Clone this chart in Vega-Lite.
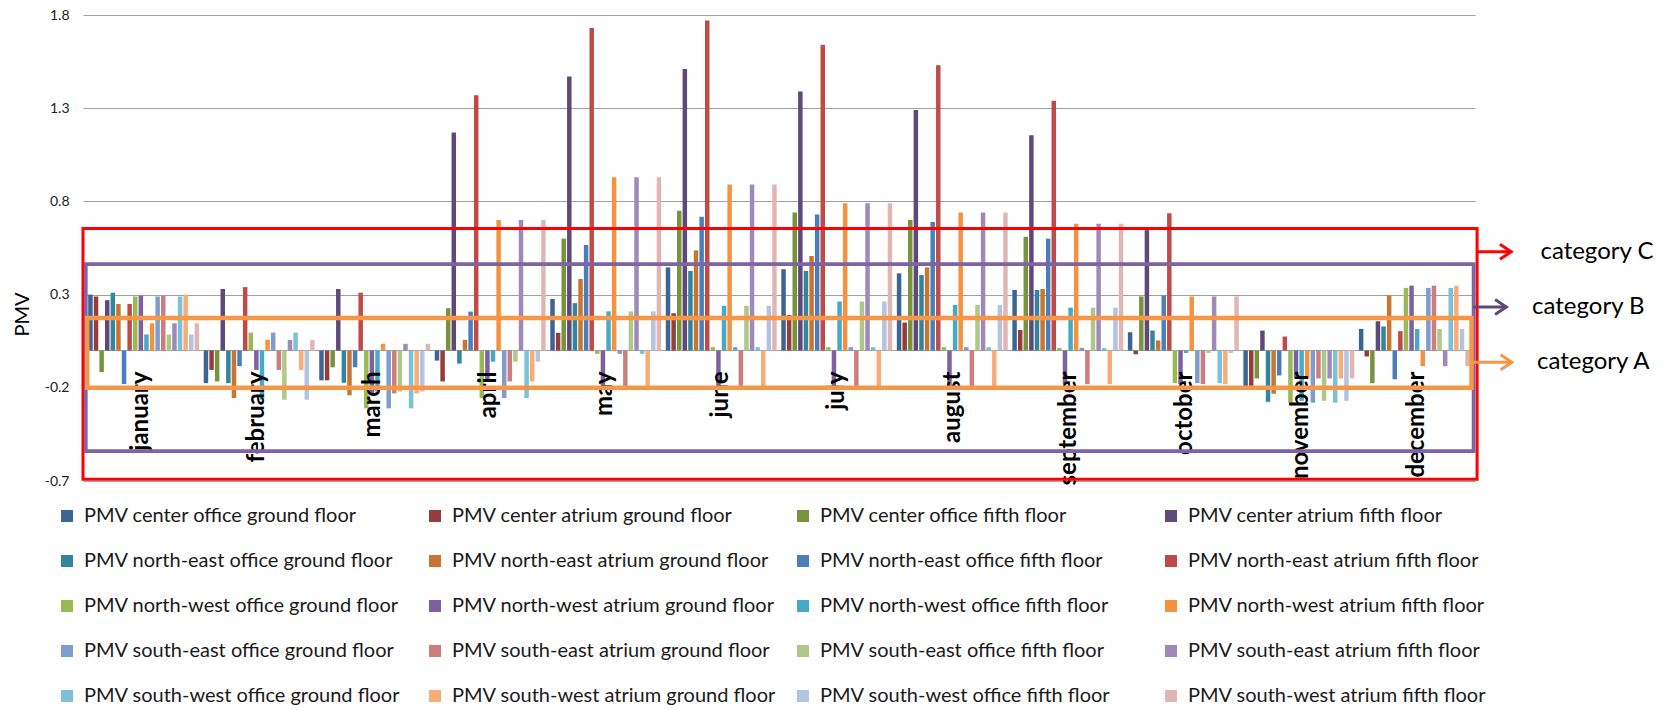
{
  "$schema": "https://vega.github.io/schema/vega-lite/v6.json",
  "width": 1392,
  "height": 466,
  "autosize": {"type": "none"},
  "padding": {"left": 83, "top": 15, "right": 196, "bottom": 229},
  "config": {"font": "Lato", "view": {"stroke": null}},
  "datasets": {
    "series": [
      {"k": 1, "series": "PMV center office ground floor"},
      {"k": 2, "series": "PMV center atrium ground floor"},
      {"k": 3, "series": "PMV center office fifth floor"},
      {"k": 4, "series": "PMV center atrium fifth floor"},
      {"k": 5, "series": "PMV north-east office ground floor"},
      {"k": 6, "series": "PMV north-east atrium ground floor"},
      {"k": 7, "series": "PMV north-east office fifth floor"},
      {"k": 8, "series": "PMV north-east atrium fifth floor"},
      {"k": 9, "series": "PMV north-west office ground floor"},
      {"k": 10, "series": "PMV north-west atrium ground floor"},
      {"k": 11, "series": "PMV north-west office fifth floor"},
      {"k": 12, "series": "PMV north-west atrium fifth floor"},
      {"k": 13, "series": "PMV south-east office ground floor"},
      {"k": 14, "series": "PMV south-east atrium ground floor"},
      {"k": 15, "series": "PMV south-east office fifth floor"},
      {"k": 16, "series": "PMV south-east atrium fifth floor"},
      {"k": 17, "series": "PMV south-west office ground floor"},
      {"k": 18, "series": "PMV south-west atrium ground floor"},
      {"k": 19, "series": "PMV south-west office fifth floor"},
      {"k": 20, "series": "PMV south-west atrium fifth floor"}
    ],
    "pmv": [
      {"month": "january", "k": 1, "pmv": 0.3}, {"month": "january", "k": 2, "pmv": 0.29}, {"month": "january", "k": 3, "pmv": -0.116}, {"month": "january", "k": 4, "pmv": 0.27}, {"month": "january", "k": 5, "pmv": 0.31}, {"month": "january", "k": 6, "pmv": 0.25}, {"month": "january", "k": 7, "pmv": -0.18}, {"month": "january", "k": 8, "pmv": 0.25}, {"month": "january", "k": 9, "pmv": 0.29}, {"month": "january", "k": 10, "pmv": 0.295}, {"month": "january", "k": 11, "pmv": 0.086}, {"month": "january", "k": 12, "pmv": 0.146}, {"month": "january", "k": 13, "pmv": 0.29}, {"month": "january", "k": 14, "pmv": 0.295}, {"month": "january", "k": 15, "pmv": 0.086}, {"month": "january", "k": 16, "pmv": 0.146}, {"month": "january", "k": 17, "pmv": 0.29}, {"month": "january", "k": 18, "pmv": 0.3}, {"month": "january", "k": 19, "pmv": 0.086}, {"month": "january", "k": 20, "pmv": 0.146},
      {"month": "february", "k": 1, "pmv": -0.175}, {"month": "february", "k": 2, "pmv": -0.104}, {"month": "february", "k": 3, "pmv": -0.166}, {"month": "february", "k": 4, "pmv": 0.33}, {"month": "february", "k": 5, "pmv": -0.175}, {"month": "february", "k": 6, "pmv": -0.255}, {"month": "february", "k": 7, "pmv": -0.084}, {"month": "february", "k": 8, "pmv": 0.34}, {"month": "february", "k": 9, "pmv": 0.096}, {"month": "february", "k": 10, "pmv": -0.104}, {"month": "february", "k": 11, "pmv": -0.264}, {"month": "february", "k": 12, "pmv": 0.057}, {"month": "february", "k": 13, "pmv": 0.096}, {"month": "february", "k": 14, "pmv": -0.104}, {"month": "february", "k": 15, "pmv": -0.264}, {"month": "february", "k": 16, "pmv": 0.057}, {"month": "february", "k": 17, "pmv": 0.096}, {"month": "february", "k": 18, "pmv": -0.104}, {"month": "february", "k": 19, "pmv": -0.264}, {"month": "february", "k": 20, "pmv": 0.057},
      {"month": "march", "k": 1, "pmv": -0.16}, {"month": "march", "k": 2, "pmv": -0.16}, {"month": "march", "k": 3, "pmv": -0.09}, {"month": "march", "k": 4, "pmv": 0.33}, {"month": "march", "k": 5, "pmv": -0.173}, {"month": "march", "k": 6, "pmv": -0.24}, {"month": "march", "k": 7, "pmv": -0.09}, {"month": "march", "k": 8, "pmv": 0.31}, {"month": "march", "k": 9, "pmv": -0.31}, {"month": "march", "k": 10, "pmv": -0.23}, {"month": "march", "k": 11, "pmv": -0.22}, {"month": "march", "k": 12, "pmv": 0.036}, {"month": "march", "k": 13, "pmv": -0.31}, {"month": "march", "k": 14, "pmv": -0.23}, {"month": "march", "k": 15, "pmv": -0.22}, {"month": "march", "k": 16, "pmv": 0.036}, {"month": "march", "k": 17, "pmv": -0.31}, {"month": "march", "k": 18, "pmv": -0.23}, {"month": "march", "k": 19, "pmv": -0.22}, {"month": "march", "k": 20, "pmv": 0.036},
      {"month": "april", "k": 1, "pmv": -0.054}, {"month": "april", "k": 2, "pmv": -0.166}, {"month": "april", "k": 3, "pmv": 0.227}, {"month": "april", "k": 4, "pmv": 1.17}, {"month": "april", "k": 5, "pmv": -0.07}, {"month": "april", "k": 6, "pmv": 0.057}, {"month": "april", "k": 7, "pmv": 0.209}, {"month": "april", "k": 8, "pmv": 1.37}, {"month": "april", "k": 9, "pmv": -0.255}, {"month": "april", "k": 10, "pmv": -0.166}, {"month": "april", "k": 11, "pmv": -0.06}, {"month": "april", "k": 12, "pmv": 0.7}, {"month": "april", "k": 13, "pmv": -0.255}, {"month": "april", "k": 14, "pmv": -0.166}, {"month": "april", "k": 15, "pmv": -0.06}, {"month": "april", "k": 16, "pmv": 0.7}, {"month": "april", "k": 17, "pmv": -0.255}, {"month": "april", "k": 18, "pmv": -0.166}, {"month": "april", "k": 19, "pmv": -0.06}, {"month": "april", "k": 20, "pmv": 0.7},
      {"month": "may", "k": 1, "pmv": 0.277}, {"month": "may", "k": 2, "pmv": 0.095}, {"month": "may", "k": 3, "pmv": 0.6}, {"month": "may", "k": 4, "pmv": 1.47}, {"month": "may", "k": 5, "pmv": 0.254}, {"month": "may", "k": 6, "pmv": 0.384}, {"month": "may", "k": 7, "pmv": 0.566}, {"month": "may", "k": 8, "pmv": 1.73}, {"month": "may", "k": 9, "pmv": -0.018}, {"month": "may", "k": 10, "pmv": -0.193}, {"month": "may", "k": 11, "pmv": 0.21}, {"month": "may", "k": 12, "pmv": 0.93}, {"month": "may", "k": 13, "pmv": -0.018}, {"month": "may", "k": 14, "pmv": -0.193}, {"month": "may", "k": 15, "pmv": 0.21}, {"month": "may", "k": 16, "pmv": 0.93}, {"month": "may", "k": 17, "pmv": -0.018}, {"month": "may", "k": 18, "pmv": -0.193}, {"month": "may", "k": 19, "pmv": 0.21}, {"month": "may", "k": 20, "pmv": 0.93},
      {"month": "june", "k": 1, "pmv": 0.446}, {"month": "june", "k": 2, "pmv": 0.2}, {"month": "june", "k": 3, "pmv": 0.75}, {"month": "june", "k": 4, "pmv": 1.51}, {"month": "june", "k": 5, "pmv": 0.427}, {"month": "june", "k": 6, "pmv": 0.537}, {"month": "june", "k": 7, "pmv": 0.718}, {"month": "june", "k": 8, "pmv": 1.77}, {"month": "june", "k": 9, "pmv": 0.018}, {"month": "june", "k": 10, "pmv": -0.193}, {"month": "june", "k": 11, "pmv": 0.24}, {"month": "june", "k": 12, "pmv": 0.89}, {"month": "june", "k": 13, "pmv": 0.018}, {"month": "june", "k": 14, "pmv": -0.193}, {"month": "june", "k": 15, "pmv": 0.24}, {"month": "june", "k": 16, "pmv": 0.89}, {"month": "june", "k": 17, "pmv": 0.018}, {"month": "june", "k": 18, "pmv": -0.193}, {"month": "june", "k": 19, "pmv": 0.24}, {"month": "june", "k": 20, "pmv": 0.89},
      {"month": "july", "k": 1, "pmv": 0.436}, {"month": "july", "k": 2, "pmv": 0.19}, {"month": "july", "k": 3, "pmv": 0.74}, {"month": "july", "k": 4, "pmv": 1.39}, {"month": "july", "k": 5, "pmv": 0.427}, {"month": "july", "k": 6, "pmv": 0.507}, {"month": "july", "k": 7, "pmv": 0.73}, {"month": "july", "k": 8, "pmv": 1.64}, {"month": "july", "k": 9, "pmv": 0.018}, {"month": "july", "k": 10, "pmv": -0.19}, {"month": "july", "k": 11, "pmv": 0.263}, {"month": "july", "k": 12, "pmv": 0.79}, {"month": "july", "k": 13, "pmv": 0.018}, {"month": "july", "k": 14, "pmv": -0.19}, {"month": "july", "k": 15, "pmv": 0.263}, {"month": "july", "k": 16, "pmv": 0.79}, {"month": "july", "k": 17, "pmv": 0.018}, {"month": "july", "k": 18, "pmv": -0.19}, {"month": "july", "k": 19, "pmv": 0.263}, {"month": "july", "k": 20, "pmv": 0.79},
      {"month": "august", "k": 1, "pmv": 0.414}, {"month": "august", "k": 2, "pmv": 0.15}, {"month": "august", "k": 3, "pmv": 0.7}, {"month": "august", "k": 4, "pmv": 1.29}, {"month": "august", "k": 5, "pmv": 0.405}, {"month": "august", "k": 6, "pmv": 0.446}, {"month": "august", "k": 7, "pmv": 0.69}, {"month": "august", "k": 8, "pmv": 1.53}, {"month": "august", "k": 9, "pmv": 0.018}, {"month": "august", "k": 10, "pmv": -0.19}, {"month": "august", "k": 11, "pmv": 0.245}, {"month": "august", "k": 12, "pmv": 0.74}, {"month": "august", "k": 13, "pmv": 0.018}, {"month": "august", "k": 14, "pmv": -0.19}, {"month": "august", "k": 15, "pmv": 0.245}, {"month": "august", "k": 16, "pmv": 0.74}, {"month": "august", "k": 17, "pmv": 0.018}, {"month": "august", "k": 18, "pmv": -0.19}, {"month": "august", "k": 19, "pmv": 0.245}, {"month": "august", "k": 20, "pmv": 0.74},
      {"month": "september", "k": 1, "pmv": 0.325}, {"month": "september", "k": 2, "pmv": 0.11}, {"month": "september", "k": 3, "pmv": 0.61}, {"month": "september", "k": 4, "pmv": 1.155}, {"month": "september", "k": 5, "pmv": 0.325}, {"month": "september", "k": 6, "pmv": 0.33}, {"month": "september", "k": 7, "pmv": 0.6}, {"month": "september", "k": 8, "pmv": 1.34}, {"month": "september", "k": 9, "pmv": 0.014}, {"month": "september", "k": 10, "pmv": -0.18}, {"month": "september", "k": 11, "pmv": 0.23}, {"month": "september", "k": 12, "pmv": 0.68}, {"month": "september", "k": 13, "pmv": 0.014}, {"month": "september", "k": 14, "pmv": -0.18}, {"month": "september", "k": 15, "pmv": 0.23}, {"month": "september", "k": 16, "pmv": 0.68}, {"month": "september", "k": 17, "pmv": 0.014}, {"month": "september", "k": 18, "pmv": -0.18}, {"month": "september", "k": 19, "pmv": 0.23}, {"month": "september", "k": 20, "pmv": 0.68},
      {"month": "october", "k": 1, "pmv": 0.098}, {"month": "october", "k": 2, "pmv": -0.02}, {"month": "october", "k": 3, "pmv": 0.29}, {"month": "october", "k": 4, "pmv": 0.646}, {"month": "october", "k": 5, "pmv": 0.107}, {"month": "october", "k": 6, "pmv": 0.054}, {"month": "october", "k": 7, "pmv": 0.295}, {"month": "october", "k": 8, "pmv": 0.736}, {"month": "october", "k": 9, "pmv": -0.175}, {"month": "october", "k": 10, "pmv": -0.18}, {"month": "october", "k": 11, "pmv": -0.013}, {"month": "october", "k": 12, "pmv": 0.29}, {"month": "october", "k": 13, "pmv": -0.175}, {"month": "october", "k": 14, "pmv": -0.18}, {"month": "october", "k": 15, "pmv": -0.013}, {"month": "october", "k": 16, "pmv": 0.29}, {"month": "october", "k": 17, "pmv": -0.175}, {"month": "october", "k": 18, "pmv": -0.18}, {"month": "october", "k": 19, "pmv": -0.013}, {"month": "october", "k": 20, "pmv": 0.29},
      {"month": "november", "k": 1, "pmv": -0.19}, {"month": "november", "k": 2, "pmv": -0.19}, {"month": "november", "k": 3, "pmv": -0.15}, {"month": "november", "k": 4, "pmv": 0.107}, {"month": "november", "k": 5, "pmv": -0.275}, {"month": "november", "k": 6, "pmv": -0.232}, {"month": "november", "k": 7, "pmv": -0.134}, {"month": "november", "k": 8, "pmv": 0.075}, {"month": "november", "k": 9, "pmv": -0.28}, {"month": "november", "k": 10, "pmv": -0.15}, {"month": "november", "k": 11, "pmv": -0.27}, {"month": "november", "k": 12, "pmv": -0.15}, {"month": "november", "k": 13, "pmv": -0.28}, {"month": "november", "k": 14, "pmv": -0.15}, {"month": "november", "k": 15, "pmv": -0.27}, {"month": "november", "k": 16, "pmv": -0.15}, {"month": "november", "k": 17, "pmv": -0.28}, {"month": "november", "k": 18, "pmv": -0.15}, {"month": "november", "k": 19, "pmv": -0.27}, {"month": "november", "k": 20, "pmv": -0.15},
      {"month": "december", "k": 1, "pmv": 0.116}, {"month": "december", "k": 2, "pmv": -0.032}, {"month": "december", "k": 3, "pmv": -0.175}, {"month": "december", "k": 4, "pmv": 0.157}, {"month": "december", "k": 5, "pmv": 0.129}, {"month": "december", "k": 6, "pmv": 0.295}, {"month": "december", "k": 7, "pmv": -0.154}, {"month": "december", "k": 8, "pmv": 0.104}, {"month": "december", "k": 9, "pmv": 0.336}, {"month": "december", "k": 10, "pmv": 0.348}, {"month": "december", "k": 11, "pmv": 0.116}, {"month": "december", "k": 12, "pmv": -0.084}, {"month": "december", "k": 13, "pmv": 0.336}, {"month": "december", "k": 14, "pmv": 0.348}, {"month": "december", "k": 15, "pmv": 0.116}, {"month": "december", "k": 16, "pmv": -0.084}, {"month": "december", "k": 17, "pmv": 0.336}, {"month": "december", "k": 18, "pmv": 0.348}, {"month": "december", "k": 19, "pmv": 0.116}, {"month": "december", "k": 20, "pmv": -0.084}
    ],
    "months": [
      {"month": "january"}, {"month": "february"}, {"month": "march"}, {"month": "april"}, {"month": "may"}, {"month": "june"},
      {"month": "july"}, {"month": "august"}, {"month": "september"}, {"month": "october"}, {"month": "november"}, {"month": "december"}
    ],
    "boxes": [
      {"cat": "C", "xa": 0.0, "xb": 1.0015, "lo": -0.69, "hi": 0.655},
      {"cat": "B", "xa": 0.002, "xb": 0.999, "lo": -0.54, "hi": 0.464},
      {"cat": "A", "xa": 0.003, "xb": 0.9975, "lo": -0.2, "hi": 0.175}
    ],
    "arrows": [
      {"cat": "C", "xa": 1.0015, "xb": 1.026, "y": 0.53, "label": "category C", "xt": 1.047},
      {"cat": "B", "xa": 0.999, "xb": 1.0225, "y": 0.234, "label": "category B", "xt": 1.041},
      {"cat": "A", "xa": 0.9975, "xb": 1.0265, "y": -0.063, "label": "category A", "xt": 1.0445}
    ]
  },
  "layer": [
    {
      "data": {"values": [{"pmv": 0}]},
      "mark": {"type": "rule", "color": "#A0A0A0", "strokeWidth": 1},
      "encoding": {
        "y": {"field": "pmv", "type": "quantitative", "scale": {"domain": [-0.7, 1.8], "nice": false, "zero": false}}
      }
    },
    {
      "data": {"name": "pmv"},
      "transform": [{"lookup": "k", "from": {"data": {"name": "series"}, "key": "k", "fields": ["series"]}}],
      "mark": {"type": "bar"},
      "encoding": {
        "x": {"field": "month", "type": "nominal", "sort": ["january", "february", "march", "april", "may", "june", "july", "august", "september", "october", "november", "december"], "scale": {"paddingInner": 0.04, "paddingOuter": 0.045}, "axis": null},
        "xOffset": {"field": "k", "type": "nominal", "scale": {"paddingInner": 0.2}},
        "y": {
          "field": "pmv", "type": "quantitative",
          "scale": {"domain": [-0.7, 1.8], "nice": false, "zero": false},
          "axis": {
            "values": [-0.7, -0.2, 0.3, 0.8, 1.3, 1.8],
            "labelExpr": "replace(datum.label, '\u2212', '-')",
            "title": "PMV", "titleFontSize": 20, "titleFontWeight": "normal", "titleColor": "#000000",
            "titleX": -61, "titleY": 299, "titleAlign": "center", "titleBaseline": "middle", "titleAngle": -90,
            "labelFontSize": 14, "labelColor": "#222222", "labelPadding": 14,
            "ticks": false, "domain": false, "gridColor": "#A0A0A0", "gridWidth": 1
          }
        },
        "color": {
          "field": "series", "type": "nominal",
          "scale": {
            "domain": ["PMV center office ground floor", "PMV center atrium ground floor", "PMV center office fifth floor", "PMV center atrium fifth floor", "PMV north-east office ground floor", "PMV north-east atrium ground floor", "PMV north-east office fifth floor", "PMV north-east atrium fifth floor", "PMV north-west office ground floor", "PMV north-west atrium ground floor", "PMV north-west office fifth floor", "PMV north-west atrium fifth floor", "PMV south-east office ground floor", "PMV south-east atrium ground floor", "PMV south-east office fifth floor", "PMV south-east atrium fifth floor", "PMV south-west office ground floor", "PMV south-west atrium ground floor", "PMV south-west office fifth floor", "PMV south-west atrium fifth floor"],
            "range": ["#3C6494", "#963C3A", "#77933C", "#5F497A", "#31859C", "#C77530", "#4A7EBB", "#BE4B48", "#98B954", "#7D60A0", "#46AAC5", "#F59240", "#7E9DCC", "#CD7E7C", "#AFC88A", "#9D8ABA", "#7CC1D5", "#F8AD78", "#B3C4E0", "#E0B6B5"]
          },
          "legend": {
            "title": null, "orient": "none", "legendX": -26, "legendY": 491,
            "direction": "horizontal", "columns": 4, "gridAlign": "all",
            "symbolType": "square", "symbolSize": 144, "symbolStrokeWidth": 0,
            "labelFontSize": 20, "labelColor": "#1a1a1a", "labelOffset": 7, "labelLimit": 420,
            "columnPadding": 17, "rowPadding": 25, "padding": 0
          }
        }
      }
    },
    {
      "data": {"name": "months"},
      "mark": {"type": "text", "angle": -90, "align": "right", "baseline": "middle", "dx": -21, "fontSize": 24, "fontWeight": "bold", "color": "#000000"},
      "encoding": {
        "x": {"field": "month", "type": "nominal", "sort": ["january", "february", "march", "april", "may", "june", "july", "august", "september", "october", "november", "december"], "scale": {"paddingInner": 0.04, "paddingOuter": 0.045}, "axis": null},
        "y": {"datum": 0, "type": "quantitative", "scale": {"domain": [-0.7, 1.8], "nice": false, "zero": false}},
        "text": {"field": "month"}
      }
    },
    {
      "data": {"name": "boxes"},
      "mark": {"type": "rect", "fill": null, "fillOpacity": 0},
      "encoding": {
        "x": {"field": "xa", "type": "quantitative", "scale": {"domain": [0, 1], "nice": false, "zero": false}, "axis": null},
        "x2": {"field": "xb"},
        "y": {"field": "lo", "type": "quantitative", "scale": {"domain": [-0.7, 1.8], "nice": false, "zero": false}},
        "y2": {"field": "hi"},
        "stroke": {"field": "cat", "type": "nominal", "scale": {"domain": ["A", "B", "C"], "range": ["#F79646", "#8064A2", "#FF0000"]}, "legend": null},
        "strokeWidth": {"field": "cat", "type": "ordinal", "scale": {"domain": ["A", "B", "C"], "range": [4.5, 3, 3]}, "legend": null},
        "order": {"field": "cat", "sort": "descending"}
      }
    },
    {
      "data": {"name": "arrows"},
      "mark": {"type": "rule", "strokeWidth": 3},
      "encoding": {
        "x": {"field": "xa", "type": "quantitative", "scale": {"domain": [0, 1], "nice": false, "zero": false}, "axis": null},
        "x2": {"field": "xb"},
        "y": {"field": "y", "type": "quantitative", "scale": {"domain": [-0.7, 1.8], "nice": false, "zero": false}},
        "stroke": {"field": "cat", "type": "nominal", "scale": {"domain": ["A", "B", "C"], "range": ["#F79646", "#5F497A", "#FF0000"]}, "legend": null}
      }
    },
    {
      "data": {"name": "arrows"},
      "mark": {"type": "point", "shape": "M-1.5,-1L0,0L-1.5,1", "size": 225, "filled": false, "strokeWidth": 3, "opacity": 1},
      "encoding": {
        "x": {"field": "xb", "type": "quantitative", "scale": {"domain": [0, 1], "nice": false, "zero": false}, "axis": null},
        "y": {"field": "y", "type": "quantitative", "scale": {"domain": [-0.7, 1.8], "nice": false, "zero": false}},
        "stroke": {"field": "cat", "type": "nominal", "scale": {"domain": ["A", "B", "C"], "range": ["#F79646", "#5F497A", "#FF0000"]}, "legend": null}
      }
    },
    {
      "data": {"name": "arrows"},
      "mark": {"type": "text", "align": "left", "baseline": "middle", "fontSize": 24, "color": "#000000"},
      "encoding": {
        "x": {"field": "xt", "type": "quantitative", "scale": {"domain": [0, 1], "nice": false, "zero": false}, "axis": null},
        "y": {"field": "y", "type": "quantitative", "scale": {"domain": [-0.7, 1.8], "nice": false, "zero": false}},
        "text": {"field": "label"}
      }
    }
  ],
  "resolve": {"scale": {"x": "independent", "stroke": "independent", "strokeWidth": "independent"}}
}
